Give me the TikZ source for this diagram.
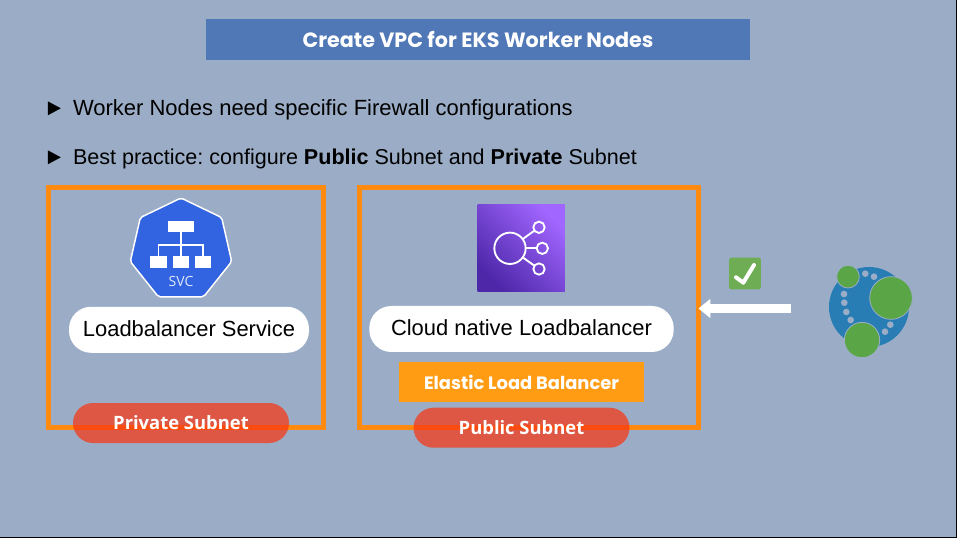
\documentclass[tikz,border=0pt]{standalone}
\usepackage{fontspec}
\setmainfont{Liberation Sans}
\newfontfamily\titlefont{Poppins}
\newfontfamily\subnetfont{Open Sans}
\usetikzlibrary{
  arrows.meta,
  calc,
  positioning,
  shapes.geometric,
}
\definecolor{bgblue}{RGB}{155, 173, 198}
\definecolor{titleblue}{RGB}{80, 120, 183}
\definecolor{boxorange}{RGB}{255, 138, 16}
\definecolor{elborange}{RGB}{255, 156, 20}
\definecolor{subnetred}{RGB}{248, 52, 16}
\definecolor{svcblue}{RGB}{50, 100, 225}
\definecolor{neoblue}{RGB}{40, 125, 181}
\definecolor{neogreen}{RGB}{90, 166, 70}
\definecolor{checkgreen}{RGB}{111, 173, 85}
\definecolor{awspurplehi}{RGB}{161, 102, 255}
\definecolor{awspurplelo}{RGB}{77, 39, 168}
\tikzstyle{subnetbox} = [rectangle,draw=boxorange,line width=3.75pt,minimum height=180]
\tikzstyle{whitepill} = [rectangle,fill=white,rounded corners=16.5pt,minimum height=34.5,text depth=2pt,font=\fontsize{16.45}{18}\selectfont]
\tikzstyle{subnetpill} = [rectangle,fill=subnetred,fill opacity=0.71,text opacity=1,text=white,rounded corners=15pt,minimum width=162,minimum height=30,font=\subnetfont\bfseries\fontsize{13.8}{15}\selectfont]
\tikzstyle{bullettext} = [anchor=west,inner sep=0pt,font=\frenchspacing\fontsize{16.5}{18}\selectfont]
\tikzstyle{bulletmark} = [isosceles triangle,isosceles triangle stretches,fill=black,inner sep=0pt,minimum height=9.75,minimum width=10.5]
\tikzstyle{svcleaf} = [rectangle,fill=white,inner sep=0pt,minimum width=12.3,minimum height=8.8]
\tikzstyle{hubring} = [circle,draw=white,line width=1.4pt,inner sep=0pt]
\tikzstyle{neodot} = [circle,fill=bgblue,inner sep=0pt,minimum size=5]
\tikzstyle{neoball} = [circle,fill=neogreen,draw=bgblue,line width=0.6pt,inner sep=0pt]

\begin{document}
\begin{tikzpicture}[x=0.75pt,y=-0.75pt,node distance=0mm and 0mm,outer sep=0pt]
      \path[use as bounding box,fill=black] (0,0) rectangle (957,538);
      \fill[bgblue] (0,0) rectangle (956,537);

      % heading and the two lines below it
      \node[rectangle,fill=titleblue,text=white,minimum width=408,minimum height=30.75,font=\titlefont\bfseries\fontsize{15.5}{17}\selectfont] (title) at (478,39.5) {Create VPC for EKS Worker Nodes};
      \node[bulletmark] (mark1) at (52,108.3) {};
      \node[bullettext] (line1) at (73,109.5) {Worker Nodes need specific Firewall configurations};
      \node[bulletmark] (mark2) at (52,157.3) {};
      \node[bullettext,font=\frenchspacing\fontsize{16.15}{18}\selectfont] (line2) at (73,158.5) {Best practice: configure \textbf{Public} Subnet and \textbf{Private} Subnet};

      % private side
      \node[subnetbox,minimum width=206.25] (boxpriv) at (186,307.5) {};
      \node[regular polygon,regular polygon sides=7,fill=svcblue,draw=white,line width=1.1pt,rounded corners=1.5pt,minimum size=78] (svc) at (181,250) {};
      \node[rectangle,fill=white,inner sep=0pt,minimum width=19.8,minimum height=8.8] (svctop) at (181,226.5) {};
      \node[svcleaf] (svcl) at (158.5,261.8) {};
      \node[svcleaf] (svcm) at (181,261.8) {};
      \node[svcleaf] (svcr) at (203.2,261.8) {};
      \node[text=white!85!svcblue,font=\subnetfont\fontsize{10.5}{11}\selectfont] (svclabel) at (181,282) {SVC};
      \draw[white,line width=1.4pt] (svctop.south) -- (svcm.north);
      \draw[white,line width=1.4pt] (svcl.north) |- ($(svctop.south)!.55!(svcm.north)$) -| (svcr.north);
      \node[whitepill,minimum width=180] (lbsvc) at (189,329.8) {Loadbalancer Service};
      \node[subnetpill] (privnet) at (181,423) {Private Subnet};

      % public side
      \node[subnetbox,minimum width=253.9] (boxpub) at (529.2,307.5) {};
      \node[rectangle,minimum size=65.5,top color=awspurplehi,bottom color=awspurplelo,shading angle=-45] (elbicon) at (521.3,248) {};
      \node[hubring,minimum size=23.5] (hub) at (510,248.3) {};
      \node[hubring,minimum size=8.5] (spoke1) at (539,227.3) {};
      \node[hubring,minimum size=8.5] (spoke2) at (542.3,248.3) {};
      \node[hubring,minimum size=8.5] (spoke3) at (539,269) {};
      \draw[white,line width=1.4pt] (hub) -- (spoke1);
      \draw[white,line width=1.4pt] (hub) -- (spoke2);
      \draw[white,line width=1.4pt] (hub) -- (spoke3);
      \node[whitepill,minimum width=228.3] (lbcloud) at (521.5,329) {Cloud native Loadbalancer};
      \node[rectangle,fill=elborange,text=white,minimum width=184,minimum height=29.7,yshift=-7.8,font=\titlefont\bfseries\fontsize{13.4}{15}\selectfont] (elb) [below=of lbcloud] {Elastic Load Balancer};
      \node[subnetpill,yshift=-4.3] (pubnet) [below=of elb] {Public Subnet};

      % check mark, arrow and logo
      \node[rectangle,fill=checkgreen,rounded corners=1.5pt,minimum size=23.7] (okbadge) at (745,273.5) {};
      \draw[white,line width=3pt,line cap=round,line join=round] ($(okbadge)+(-9,3.8)$) coordinate (ok1) -- ($(okbadge)+(-1.7,9.2)$) coordinate (ok2) -- ($(okbadge)+(9,-8.5)$) coordinate (ok3);
      \coordinate (arrowstart) at (791,308.5);
      \draw[-{Triangle[length=9pt,width=14pt]},white,line width=6.3pt] (arrowstart) -- (boxpub.east |- arrowstart);

      \node[circle,fill=neoblue,inner sep=0pt,minimum size=60] (neodisk) at (869,307) {};
      \node[neoball,minimum size=17] (neosmall) at (848,276.7) {};
      \node[neoball,minimum size=32] (neobig) at (891,298) {};
      \node[neoball,minimum size=26.5] (neolow) at (862,340) {};
      \node[neodot] (dot1) at (865.3,273.7) {};
      \node[neodot] (dot2) at (874,276.7) {};
      \node[neodot] (dot3) at (844,294) {};
      \node[neodot] (dot4) at (844.3,302.7) {};
      \node[neodot] (dot5) at (846.3,312) {};
      \node[neodot] (dot6) at (850.7,320) {};
      \node[neodot] (dot7) at (885,331.7) {};
      \node[neodot] (dot8) at (890.3,324.7) {};
\end{tikzpicture}
\end{document}
